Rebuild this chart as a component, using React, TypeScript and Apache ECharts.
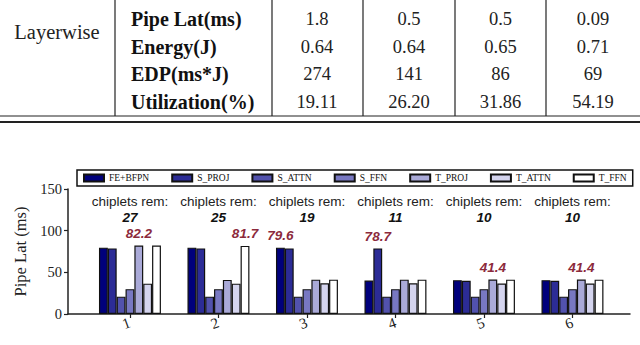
import React, { useEffect, useRef } from 'react';
import * as echarts from 'echarts';

// ---------- table data ----------
const tableGroupLabel = 'Layerwise';
const tableRowLabels = ['Pipe Lat(ms)', 'Energy(J)', 'EDP(ms*J)', 'Utilization(%)'];
const pipeLatRow = ['1.8', '0.5', '0.5', '0.09'];
const energyRow = ['0.64', '0.64', '0.65', '0.71'];
const edpRow = ['274', '141', '86', '69'];
const utilRow = ['19.11', '26.20', '31.86', '54.19'];

// ---------- chart data ----------
const groups = [1, 2, 3, 4, 5, 6];
const chipletsRem = [27, 25, 19, 11, 10, 10];
const seriesNames = ['FE+BFPN', 'S_PROJ', 'S_ATTN', 'S_FFN', 'T_PROJ', 'T_ATTN', 'T_FFN'];
const feBfpn = [79.6, 79.6, 79.6, 40.2, 40.6, 40.6];
const sProj = [78.7, 78.7, 78.7, 78.7, 39.8, 39.8];
const sAttn = [20.8, 20.8, 20.8, 20.8, 20.8, 20.8];
const sFfn = [29.8, 29.8, 29.8, 29.8, 29.8, 29.8];
const tProj = [82.2, 40.9, 41.2, 41.2, 41.4, 41.4];
const tAttn = [36.4, 36.4, 36.8, 36.8, 36.6, 36.6];
const tFfn = [82.2, 81.7, 41.2, 41.2, 41.2, 41.2];
const bottleneck = ['T_PROJ', 'T_FFN', 'FE+BFPN', 'S_PROJ', 'T_PROJ', 'T_PROJ'];
const seriesValues = [feBfpn, sProj, sAttn, sFfn, tProj, tAttn, tFfn];
const colors = ['#00007c', '#2c2c96', '#5252ad', '#7878c2', '#aaaad8', '#d4d4ee', '#ffffff'];

const SERIF = 'Liberation Serif';
const SANS = 'Liberation Sans';

function buildTable(): any[] {
  const els: any[] = [];
  const vLines = [115, 272, 363, 455, 546];
  vLines.forEach((x) =>
    els.push({ type: 'line', shape: { x1: x, y1: 0, x2: x, y2: 116 }, style: { stroke: '#222', lineWidth: 1.2 } })
  );
  els.push({ type: 'line', shape: { x1: 0, y1: 116, x2: 640, y2: 116 }, style: { stroke: '#222', lineWidth: 1.2 } });
  els.push({ type: 'line', shape: { x1: 0, y1: 122, x2: 640, y2: 122 }, style: { stroke: '#222', lineWidth: 2 } });
  els.push({
    type: 'text', x: 57, y: 32,
    style: { text: tableGroupLabel, fontFamily: SERIF, fontSize: 20.5, fill: '#222', align: 'center', verticalAlign: 'middle' },
  });
  const rowsY = [19, 46.5, 74, 101.5];
  const colX = [317, 409, 500.5, 593];
  const rows = [pipeLatRow, energyRow, edpRow, utilRow];
  tableRowLabels.forEach((lab, r) => {
    els.push({
      type: 'text', x: 131, y: rowsY[r],
      style: { text: lab, fontFamily: SERIF, fontWeight: 'bold', fontSize: 20, fill: '#111', align: 'left', verticalAlign: 'middle' },
    });
    rows[r].forEach((v, c) => {
      els.push({
        type: 'text', x: colX[c], y: rowsY[r],
        style: { text: v, fontFamily: SERIF, fontSize: 18.5, fill: '#222', align: 'center', verticalAlign: 'middle' },
      });
    });
  });
  return els;
}

export default function App() {
  const ref = useRef<HTMLDivElement>(null);
  useEffect(() => {
    if (!ref.current) return;
    const chart = echarts.init(ref.current, null, { renderer: 'svg' });
    const option: any = {
      animation: false,
      backgroundColor: '#ffffff',
      graphic: buildTable(),
      grid: { left: 68, top: 189, width: 562, height: 125 },
      legend: {
        left: 77, top: 170, orient: 'horizontal',
        padding: [3, 6, 3, 6], itemGap: 22, itemWidth: 20, itemHeight: 7,
        borderColor: '#111', borderWidth: 1.5,
        textStyle: { fontFamily: SERIF, fontSize: 9.5, color: '#111' },
        icon: 'rect',
        data: seriesNames,
      },
      xAxis: [
        {
          type: 'value', min: 0.3, max: 6.65, position: 'bottom',
          axisLine: { show: true, lineStyle: { color: '#222', width: 1.5 } },
          axisTick: { show: true, customValues: groups, length: 4, lineStyle: { color: '#222', width: 1.2 } },
          axisLabel: {
            customValues: groups, formatter: (v: number) => String(Math.round(v)), rotate: 20,
            fontFamily: SERIF, fontSize: 15, color: '#222', margin: 8,
          },
          splitLine: { show: false },
        },
        {
          type: 'value', min: 0.3, max: 6.65, position: 'top',
          axisLine: { show: false }, axisTick: { show: false }, splitLine: { show: false },
          axisLabel: {
            customValues: groups, margin: -37,
            formatter: (v: number) => `{a|chiplets rem:}\n{b|${chipletsRem[Math.round(v) - 1]}}`,
            rich: {
              a: { fontFamily: SANS, fontSize: 13.5, color: '#222', lineHeight: 16.5 },
              b: { fontFamily: SANS, fontSize: 13.5, fontWeight: 'bold', fontStyle: 'italic', color: '#111', lineHeight: 16.5 },
            },
          },
        },
      ],
      yAxis: {
        type: 'value', min: 0, max: 150, interval: 50,
        name: 'Pipe Lat (ms)', nameLocation: 'middle', nameGap: 32,
        nameTextStyle: { fontFamily: SERIF, fontSize: 16.5, color: '#222' },
        axisLine: { show: true, lineStyle: { color: '#222', width: 1.5 } },
        axisTick: { show: true, length: 4, lineStyle: { color: '#222', width: 1.2 } },
        axisLabel: { fontFamily: SERIF, fontSize: 14.5, color: '#222', margin: 6 },
        splitLine: { show: false },
      },
      series: seriesNames.map((name, si) => ({
        name, type: 'bar', xAxisIndex: 0, yAxisIndex: 0,
        barGap: '0%', barCategoryGap: '30%',
        itemStyle: { color: colors[si], borderColor: '#111', borderWidth: 1.2 },
        data: seriesValues[si].map((v, gi) =>
          bottleneck[gi] === name
            ? {
                value: [groups[gi], v],
                label: {
                  show: true, position: 'top', distance: 5,
                  formatter: (p: any) => Number(p.value[1]).toFixed(1),
                  fontFamily: SANS, fontSize: 13.5, fontWeight: 'bold', fontStyle: 'italic', color: '#8c2a3c',
                },
              }
            : [groups[gi], v]
        ),
      })),
    };
    chart.setOption(option);
    return () => chart.dispose();
  }, []);
  return <div ref={ref} style={{ position: 'absolute', left: 0, top: 0, width: 640, height: 345 }} />;
}
